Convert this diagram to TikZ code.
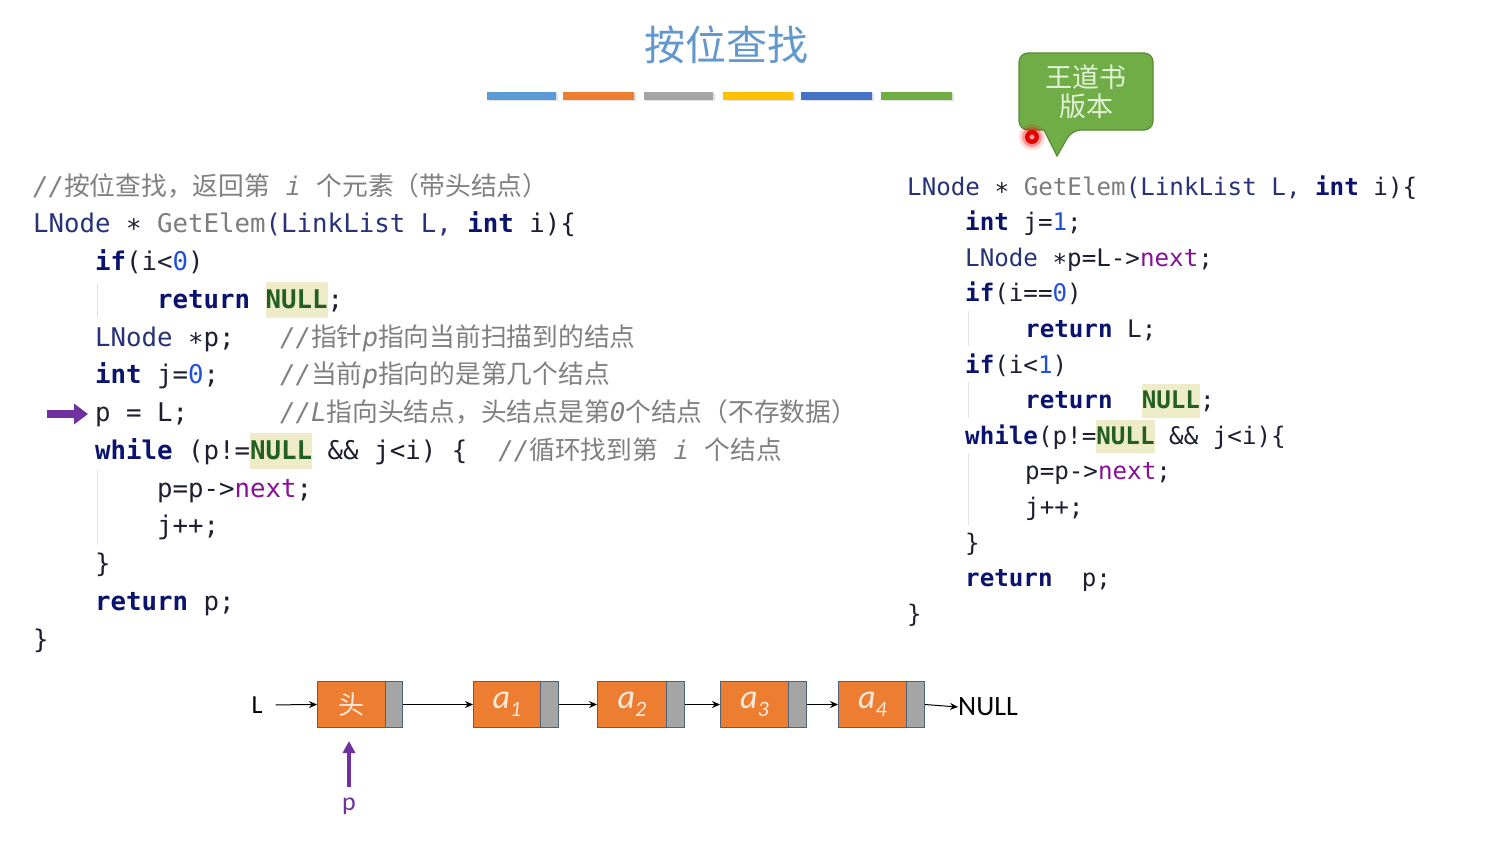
\documentclass[tikz,border=0pt]{standalone}
\usepackage{fontspec}
\setmainfont{Carlito}
\setmonofont{DejaVu Sans Mono}
\newfontfamily\cjk{Noto Sans CJK SC}
\usetikzlibrary{arrows.meta}
\definecolor{titlec}{RGB}{98,152,204}
\definecolor{barA}{RGB}{91,155,213}
\definecolor{barB}{RGB}{237,125,49}
\definecolor{barC}{RGB}{165,165,165}
\definecolor{barD}{RGB}{255,192,0}
\definecolor{barE}{RGB}{68,114,196}
\definecolor{barF}{RGB}{112,173,71}
\definecolor{codec}{RGB}{30,30,50}
\definecolor{kwc}{RGB}{10,20,110}
\definecolor{tyc}{RGB}{40,50,120}
\definecolor{fnc}{RGB}{125,125,125}
\definecolor{numc}{RGB}{30,80,220}
\definecolor{fldc}{RGB}{135,16,148}
\definecolor{nulc}{RGB}{35,95,35}
\definecolor{hlc}{RGB}{238,236,200}
\definecolor{cmc}{RGB}{128,128,128}
\definecolor{guidec}{RGB}{228,228,228}
\definecolor{orc}{RGB}{237,125,49}
\definecolor{gyc}{RGB}{165,165,165}
\definecolor{bdc}{RGB}{80,98,120}
\definecolor{lblc}{RGB}{253,235,222}
\definecolor{purp}{RGB}{112,48,160}
\definecolor{calf}{RGB}{112,173,71}
\definecolor{cald}{RGB}{88,140,55}
\definecolor{calt}{RGB}{226,242,214}
\newcommand\Ckw[1]{{\bfseries\color{kwc}#1}}
\newcommand\Cty[1]{{\color{tyc}#1}}
\newcommand\Cfn[1]{{\color{fnc}#1}}
\newcommand\Cnm[1]{{\color{numc}#1}}
\newcommand\Cfld[1]{{\color{fldc}#1}}
\newcommand\Cnul{{\setlength\fboxsep{0pt}\colorbox{hlc}{\rule[-0.38em]{0pt}{1.4em}\bfseries\color{nulc}NULL}}}
\newcommand\Ccm[1]{{\color{cmc}#1}}
\newcommand\Czh[1]{{\cjk #1}}
\newcommand\Csub[1]{\raisebox{-0.22em}{\fontsize{22}{22}\selectfont #1}}
\tikzset{
  codeL/.style={anchor=base west, inner sep=0pt, text=codec, font=\ttfamily\fontsize{25.75}{30}\selectfont},
  codeR/.style={anchor=base west, inner sep=0pt, text=codec, font=\ttfamily\fontsize{24.2}{30}\selectfont},
  orng/.style={draw=bdc, fill=orc, line width=1pt, minimum height=46pt, inner sep=0pt, anchor=north west, text=lblc, font=\itshape\fontsize{34}{34}\selectfont},
  gry/.style={draw=bdc, fill=gyc, line width=1pt, minimum height=46pt, inner sep=0pt, anchor=north west},
  la/.style={-{Stealth[length=8pt,width=7pt]}, line width=1pt, black},
  guide/.style={guidec, line width=1pt},
  lbl/.style={inner sep=0pt, font=\fontsize{26}{26}\selectfont}
}
\begin{document}
\begin{tikzpicture}[x=1pt,y=-1pt]
\useasboundingbox[fill=white] (0,0) rectangle (1495,840);
% title
\node[text=titlec, font=\cjk\fontsize{41}{41}\selectfont] (title) at (726,45) {按位查找};
\foreach \xa/\xb/\c in {487/556/barA,563/634/barB,644/713/barC,723/793/barD,801/872/barE,881/952/barF}{
  \fill[black!12] (\xa+1.5,93.5) rectangle (\xb+1.5,101.5);
  \fill[\c] (\xa,92) rectangle (\xb,100);
}
% callout
\fill[calf, draw=cald, line width=1.2pt, rounded corners=9pt] (1044,130) -- (1019,130) -- (1019,53) -- (1153,53) -- (1153,130) -- (1072,130) [sharp corners] -- (1057,156) -- cycle;
\node[text=calt, font=\cjk\fontsize{27}{27}\selectfont, align=center, inner sep=0pt] (callout) at (1086,92) {王道书\\[2pt]版本};
\fill[red, opacity=0.15] (1032,137) circle (13);
\fill[red, opacity=0.3] (1032,137) circle (10);
\fill[red!90!black] (1032,137) circle (7);
\fill[white, opacity=0.6] (1032,137) circle (2.5);
% indent guides
\draw[guide] (97,283) -- (97,318);
\draw[guide] (97,470) -- (97,545);
\draw[guide] (968,311) -- (968,346);
\draw[guide] (968,382) -- (968,418);
\draw[guide] (968,453) -- (968,525);
% left code
\node[codeL] (L1) at (33,195) {\Ccm{{\itshape //}\Czh{按位查找，返回第}~{\itshape i}~\Czh{个元素（带头结点）}}};
\node[codeL] (L2) at (33,232.75) {\Cty{LNode}~∗~\Cfn{GetElem}\Cty{(LinkList~L,}~\Ckw{int}~i)\{};
\node[codeL] (L3) at (95,270.5) {\Ckw{if}(i<\Cnm{0})};
\node[codeL] (L4) at (157,308.25) {\Ckw{return}~\Cnul;};
\node[codeL] (L5) at (95,346) {\Cty{LNode}~∗p;};
\node[codeL] (L5c) at (280,346) {\Ccm{{\itshape //}\Czh{指针}{\itshape p}\Czh{指向当前扫描到的结点}}};
\node[codeL] (L6) at (95,383.75) {\Ckw{int}~j=\Cnm{0};};
\node[codeL] (L6c) at (280,383.75) {\Ccm{{\itshape //}\Czh{当前}{\itshape p}\Czh{指向的是第几个结点}}};
\node[codeL] (L7) at (95,421.5) {p~=~L;};
\node[codeL] (L7c) at (280,421.5) {\Ccm{{\itshape //L}\Czh{指向头结点，头结点是第}{\itshape 0}\Czh{个结点（不存数据）}}};
\node[codeL] (L8) at (95,459.25) {\Ckw{while}~(p!=\Cnul~\&\&~j<i)~\{~~\Ccm{{\itshape //}\Czh{循环找到第}~{\itshape i}~\Czh{个结点}}};
\node[codeL] (L9) at (157,497) {p=p->\Cfld{next};};
\node[codeL] (L10) at (157,534.75) {j++;};
\node[codeL] (L11) at (95,572.5) {\}};
\node[codeL] (L12) at (95,610.25) {\Ckw{return}~p;};
\node[codeL] (L13) at (33,648) {\}};
% pointer arrow
\coordinate (arrS) at (47,414);
\draw[purp, line width=8pt, -{Triangle[length=14pt,width=20pt]}] (arrS) -- ([xshift=-7pt]L7.west |- arrS);
% right code
\node[codeR] (R1) at (907,195) {\Cty{LNode}~∗~\Cfn{GetElem}\Cty{(LinkList~L,}~\Ckw{int}~i)\{};
\node[codeR] (R2) at (965,230.6) {\Ckw{int}~j=\Cnm{1};};
\node[codeR] (R3) at (965,266.2) {\Cty{LNode}~∗p=L->\Cfld{next};};
\node[codeR] (R4) at (965,301.8) {\Ckw{if}(i==\Cnm{0})};
\node[codeR] (R5) at (1025,337.4) {\Ckw{return}~L;};
\node[codeR] (R6) at (965,373) {\Ckw{if}(i<\Cnm{1})};
\node[codeR] (R7) at (1025,408.6) {\Ckw{return}~~\Cnul;};
\node[codeR] (R8) at (965,444.2) {\Ckw{while}(p!=\Cnul~\&\&~j<i)\{};
\node[codeR] (R9) at (1025,479.8) {p=p->\Cfld{next};};
\node[codeR] (R10) at (1025,515.4) {j++;};
\node[codeR] (R11) at (965,551) {\}};
\node[codeR] (R12) at (965,586.6) {\Ckw{return}~~p;};
\node[codeR] (R13) at (907,622.2) {\}};
% linked list
\node[orng, minimum width=68pt, font=\cjk\fontsize{26}{26}\selectfont] (h) at (317,681) {头};
\node[gry, minimum width=17pt] (hg) at (385,681) {};
\node[orng, minimum width=67pt] (a1) at (473,681) {a\Csub{1}};
\node[gry, minimum width=18pt] (a1g) at (540,681) {};
\node[orng, minimum width=69pt] (a2) at (597,681) {a\Csub{2}};
\node[gry, minimum width=18pt] (a2g) at (666,681) {};
\node[orng, minimum width=68pt] (a3) at (720,681) {a\Csub{3}};
\node[gry, minimum width=18pt] (a3g) at (788,681) {};
\node[orng, minimum width=68pt] (a4) at (838,681) {a\Csub{4}};
\node[gry, minimum width=18pt] (a4g) at (906,681) {};
\node[lbl] (Lp) at (257,705) {L};
\node[lbl, anchor=west, font=\fontsize{28}{28}\selectfont] (nul) at (958,707) {NULL};
\node[lbl, text=purp] (pp) at (349,806) {p};
\draw[la, shorten <=13pt] (Lp.east) -- (h.west);
\draw[la] (hg.east) -- (a1.west);
\draw[la] (a1g.east) -- (a2.west);
\draw[la] (a2g.east) -- (a3.west);
\draw[la] (a3g.east) -- (a4.west);
\draw[la] (a4g.east) -- (nul.west);
\draw[purp, line width=3.5pt, -{Triangle[length=12pt,width=12pt]}, shorten <=10pt, shorten >=13pt] (pp.north) -- (pp.north |- h.south);
\end{tikzpicture}
\end{document}
